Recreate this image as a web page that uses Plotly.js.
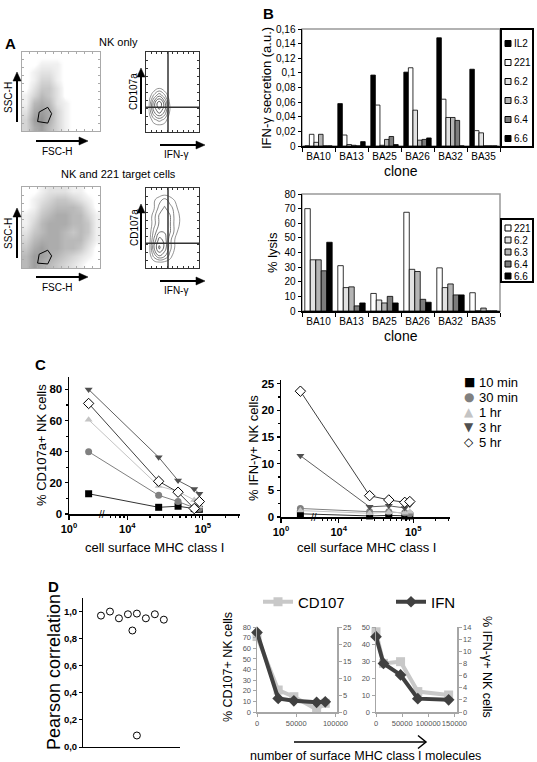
<!DOCTYPE html>
<html><head><meta charset="utf-8">
<script src="https://cdn.plot.ly/plotly-3.0.1.min.js"></script>
<style>html,body{margin:0;padding:0;background:#fff;} #chart{width:537px;height:762px;}</style>
</head><body><div id="chart"></div>
<script>
// ================= DATA =================
// Panel A: estimated flow-cytometry densities (10x10 grids, rows bottom -> top, cols left -> right)
const densNKonlyScatter = [
  [3,6,7,5,3,1,0,0,0,0],
  [3,7,8,6,3,1,0,0,0,0],
  [2,6,7,6,3,1,0,0,0,0],
  [1,5,6,5,2,1,0,0,0,0],
  [1,3,5,4,2,0,0,0,0,0],
  [0,2,4,4,2,0,0,0,0,0],
  [0,1,3,3,1,0,0,0,0,0],
  [0,1,2,2,1,0,0,0,0,0],
  [0,0,1,1,1,0,0,0,0,0],
  [0,0,0,0,0,0,0,0,0,0]];
const densNKonlyCD107 = [
  [0,0,0,0,0,0,0,0,0,0],
  [0,2,3,2,0,0,0,0,0,0],
  [1,5,7,5,1,0,0,0,0,0],
  [1,6,9,6,1,0,0,0,0,0],
  [0,3,5,3,0,0,0,0,0,0],
  [0,0,1,0,0,0,0,0,0,0],
  [0,0,0,0,0,0,0,0,0,0],
  [0,0,0,0,0,0,0,0,0,0],
  [0,0,0,0,0,0,0,0,0,0],
  [0,0,0,0,0,0,0,0,0,0]];
const densNK221Scatter = [
  [5,7,6,5,4,3,2,1,0,0],
  [5,7,7,6,5,4,3,2,1,0],
  [4,6,7,6,6,5,5,4,2,0],
  [3,5,6,6,6,5,5,5,3,1],
  [2,4,5,6,6,5,4,5,4,1],
  [1,3,5,6,6,6,5,5,4,1],
  [1,2,4,5,6,6,5,5,3,1],
  [0,1,3,4,5,5,5,4,2,0],
  [0,1,2,3,4,4,3,2,1,0],
  [0,0,1,2,2,2,1,1,0,0]];
const densNK221CD107 = [
  [0,0,0,0,0,0,0,0,0,0],
  [0,3,5,4,2,0,0,0,0,0],
  [0,5,8,6,3,1,0,0,0,0],
  [0,4,7,6,3,1,0,0,0,0],
  [0,3,5,5,4,2,0,0,0,0],
  [0,2,4,5,4,2,1,0,0,0],
  [0,2,4,5,4,2,1,0,0,0],
  [0,1,3,4,3,2,0,0,0,0],
  [0,1,2,3,2,1,0,0,0,0],
  [0,0,0,0,0,0,0,0,0,0]];
const gateFSC = [0.20, 0.22, 0.33, 0.38, 0.33, 0.20];
const gateSSC_NK = [0.12, 0.24, 0.30, 0.22, 0.10, 0.12];
const gateSSC_NK221 = [0.06, 0.17, 0.22, 0.15, 0.05, 0.06];
const quadIFN = 0.415;
const quadCD107 = 0.31;

// Panel B
const clones = ['BA10','BA13','BA25','BA26','BA32','BA35'];
const ifnNames = ['IL2','221','6.2','6.3','6.4','6.6'];
const ifnIL2 = [0, 0.058, 0.097, 0.101, 0.148, 0.105];
const ifn221 = [0.016, 0.015, 0.056, 0.107, 0.064, 0.021];
const ifn62  = [0.005, 0.002, 0.001, 0.049, 0.039, 0.018];
const ifn63  = [0.016, 0.001, 0.009, 0.008, 0.039, 0];
const ifn64  = [0, 0, 0.013, 0.009, 0.035, 0];
const ifn66  = [0, 0.006, 0.002, 0.011, 0, 0];
const lysNames = ['221','6.2','6.3','6.4','6.6'];
const lys221 = [70, 31, 12, 67.5, 29.5, 12.5];
const lys62  = [35, 16, 7.5, 28.5, 16, 0];
const lys63  = [35, 16.5, 5.5, 27, 18.5, 2];
const lys64  = [27.5, 3.5, 10, 8, 11, 0];
const lys66  = [47, 5.5, 5.5, 6, 11, 0];

// Panel C  (first value = MHC-negative 221 cells, drawn left of the axis break)
const mhcC = [20, 26000, 47000, 77000, 90000];
const timeNames = ['10 min','30 min','1 hr','3 hr','5 hr'];
const cd107_10min = [13, 4.3, 5, 3.5, 3];
const cd107_30min = [40, 12, 8, 4, 3.5];
const cd107_1hr   = [60.5, 18, 14.5, 9, 5];
const cd107_3hr   = [80, 36.5, 21.5, 16, 13];
const cd107_5hr   = [71, 21, 14, 3.5, 8];
const ifnC_10min = [0.6, 0.2, 0.3, 0.2, 0.2];
const ifnC_30min = [1.6, 1.0, 1.0, 0.8, 0.6];
const ifnC_1hr   = [1.2, 0.7, 0.9, 0.8, 1.0];
const ifnC_3hr   = [11.5, 1.9, 2.1, 1.7, 2.3];
const ifnC_5hr   = [23.6, 4.0, 3.2, 2.75, 2.9];

// Panel D
const pearsonJitter = [1, 2, 3, 4, 4.5, 5, 5, 6, 7, 8];
const pearsonR = [0.97, 1.0, 0.95, 0.98, 0.86, 0.985, 0.085, 0.95, 0.98, 0.94];
const mhcD1 = [0, 27000, 47000, 76000, 87000];
const cd107D1 = [71, 20.7, 14.4, 2.5, 8.2];
const ifnD1 = [23.4, 4.0, 3.3, 2.85, 3.0];
const mhcD2 = [0, 14300, 47000, 80000, 139000];
const cd107D2 = [47.2, 28.6, 29.6, 12, 10];
const ifnD2 = [12.4, 8.0, 6.1, 2.2, 2.0];

// ================= LAYOUT HELPERS =================
const W = 537, H = 762;
const FONT = 'Liberation Sans, Arial, sans-serif';
const px = v => v / W;
const py = v => 1 - v / H;
const domX = (a, b) => [a / W, b / W];
const domY = (top, bottom) => [1 - bottom / H, 1 - top / H];

// broken log scale for panel C
const U0 = 3.2267, S1 = 0.2, SEG2 = 5000;
const brk = v => v >= SEG2 ? Math.log10(v) : U0 + S1 * Math.log10(v);

const annotations = [];
const shapes = [];
function txt(x, y, text, size, opts) {
  annotations.push(Object.assign({xref:'paper', yref:'paper', x:px(x), y:py(y), text,
    showarrow:false, font:{family:FONT, size:size, color:'#000'}, xanchor:'center', yanchor:'middle'}, opts || {}));
}
const P = (x, y) => px(x) + ',' + py(y);
function arrowShape(x0, y0, x1, y1, width, headLen, headW, open) {
  const L = Math.hypot(x1 - x0, y1 - y0), ux = (x1 - x0) / L, uy = (y1 - y0) / L;
  const nx = -uy, ny = ux;
  const bx = x1 - ux * headLen, by = y1 - uy * headLen;
  const p1 = [bx + nx * headW / 2, by + ny * headW / 2], p2 = [bx - nx * headW / 2, by - ny * headW / 2];
  const shaftEnd = open ? [x1, y1] : [bx + ux * 1, by + uy * 1];
  shapes.push({type:'path', xref:'paper', yref:'paper', path:'M' + P(x0, y0) + 'L' + P(shaftEnd[0], shaftEnd[1]),
    line:{color:'#000', width:width}});
  if (open) {
    shapes.push({type:'path', xref:'paper', yref:'paper', path:'M' + P(p1[0], p1[1]) + 'L' + P(x1, y1) + 'L' + P(p2[0], p2[1]),
      line:{color:'#000', width:width}});
  } else {
    shapes.push({type:'path', xref:'paper', yref:'paper', path:'M' + P(x1, y1) + 'L' + P(p1[0], p1[1]) + 'L' + P(p2[0], p2[1]) + 'Z',
      line:{color:'#000', width:0.5}, fillcolor:'#000'});
  }
}

const traces = [];
const layout = {
  width: W, height: H, margin:{l:0, r:0, t:0, b:0}, paper_bgcolor:'#fff', plot_bgcolor:'rgba(0,0,0,0)',
  showlegend: true, hovermode:false, separators:',.', font:{family:FONT, color:'#000'},
  bargap: 0.17, bargroupgap: 0
};

// ---------- Panel A ----------
function flowAxes(xn, yn, xd, yd, color) {
  const base = {range:[0,1], showticklabels:false, showgrid:false, zeroline:false, showline:true,
    linecolor:color, linewidth:1, mirror:'ticks', ticks:'inside', ticklen:2, tickcolor:color, dtick:0.1, fixedrange:true};
  layout['xaxis' + xn] = Object.assign({}, base, {domain:xd, anchor:'y' + yn});
  layout['yaxis' + yn] = Object.assign({}, base, {domain:yd, anchor:'x' + xn});
}
flowAxes('', '', domX(22,100), domY(52,131), '#aaa');
flowAxes(2, 2, domX(146,199), domY(52,132), '#333');
flowAxes(3, 3, domX(22,100), domY(187,268), '#aaa');
flowAxes(4, 4, domX(146,199), domY(188,268), '#333');

const heatBase = {type:'heatmap', x0:0.05, dx:0.1, y0:0.05, dy:0.1, zsmooth:'best', zmin:0, zmax:12,
  colorscale:[[0,'rgba(255,255,255,0)'],[0.06,'#f4f4f4'],[0.45,'#b4b4b4'],[1,'#585858']], showscale:false, showlegend:false, hoverinfo:'skip'};
traces.push(Object.assign({}, heatBase, {z:densNKonlyScatter, xaxis:'x', yaxis:'y'}));
traces.push(Object.assign({}, heatBase, {z:densNK221Scatter, xaxis:'x3', yaxis:'y3'}));
const contBase = {type:'contour', x0:0.05, dx:0.1, y0:0.05, dy:0.1, showscale:false, showlegend:false,
  contours:{coloring:'lines', start:1.2, end:9, size:1.3}, line:{width:0.8, smoothing:1.3},
  colorscale:[[0,'#777'],[1,'#222']], hoverinfo:'skip'};
traces.push(Object.assign({}, contBase, {z:densNKonlyCD107, xaxis:'x2', yaxis:'y2'}));
traces.push(Object.assign({}, contBase, {z:densNK221CD107, xaxis:'x4', yaxis:'y4'}));
traces.push({type:'scatter', mode:'lines', x:gateFSC, y:gateSSC_NK, xaxis:'x', yaxis:'y', line:{color:'#000', width:1}, showlegend:false});
traces.push({type:'scatter', mode:'lines', x:gateFSC, y:gateSSC_NK221, xaxis:'x3', yaxis:'y3', line:{color:'#000', width:1}, showlegend:false});
[['x2','y2'],['x4','y4']].forEach(([xa, ya]) => {
  shapes.push({type:'line', xref:xa, yref:ya, x0:quadIFN, x1:quadIFN, y0:0, y1:1, line:{color:'#333', width:1.5}});
  shapes.push({type:'line', xref:xa, yref:ya, x0:0, x1:1, y0:quadCD107, y1:quadCD107, line:{color:'#333', width:1.5}});
});
txt(10, 44, '<b>A</b>', 15);
txt(118, 42, 'NK only', 11);
txt(118, 174, 'NK and 221 target cells', 11);
[0, 136].forEach(o => {
  txt(8, 98 + o, 'SSC-H', 10, {textangle:-90});
  arrowShape(17, 122 + o, 17, 72 + o, 2, 9, 8, false);
  txt(57, 151 + o, 'FSC-H', 10);
  arrowShape(36, 141 + o, 88, 141 + o, 2, 9, 8, false);
  txt(134, 92 + o, 'CD107a', 10, {textangle:-90});
  arrowShape(141, 114 + o, 141, 68 + o, 2, 9, 8, false);
  txt(176, 154 + o, 'IFN-γ', 10);
  arrowShape(160, 145 + o, 205, 145 + o, 2, 9, 8, false);
});

// ---------- Panel B ----------
const greys = {IL2:'#000000', '221':'#ffffff', '6.2':'#e2e2e2', '6.3':'#b4b4b4', '6.4':'#7c7c7c', '6.6':'#000000'};
function barAxes(xn, yn, xd, yd, yr, dt) {
  layout['xaxis' + xn] = {domain:xd, anchor:'y' + yn, type:'category', ticks:'outside', tickson:'boundaries',
    ticklen:4, tickcolor:'#000', showline:true, linecolor:'#000', linewidth:1.5, showgrid:false, tickangle:0,
    tickfont:{family:FONT, size:10}, fixedrange:true};
  layout['yaxis' + yn] = {domain:yd, anchor:'x' + xn, range:yr, dtick:dt, ticks:'outside', ticklen:3,
    tickcolor:'#000', showline:true, linecolor:'#000', linewidth:1.5, showgrid:false, zeroline:false,
    tickfont:{family:FONT, size:10}, fixedrange:true};
  shapes.push({type:'rect', xref:'x' + xn + ' domain', yref:'y' + yn + ' domain', x0:0, x1:1, y0:0, y1:1,
    line:{color:'#999', width:1.5}, layer:'below'});
}
barAxes(5, 5, domX(302,500), domY(29,146), [0, 0.16], 0.02);
barAxes(6, 6, domX(302,500), domY(194,311), [0, 80], 10);
[ifnIL2, ifn221, ifn62, ifn63, ifn64, ifn66].forEach((vals, i) => {
  traces.push({type:'bar', x:clones, y:vals, name:ifnNames[i], xaxis:'x5', yaxis:'y5', showlegend:false,
    marker:{color:greys[ifnNames[i]], line:{color:'#000', width:0.8}}});
});
[lys221, lys62, lys63, lys64, lys66].forEach((vals, i) => {
  traces.push({type:'bar', x:clones, y:vals, name:lysNames[i], xaxis:'x6', yaxis:'y6', showlegend:false,
    marker:{color:greys[lysNames[i]], line:{color:'#000', width:0.8}}});
});
function boxLegend(x0, x1, y0, y1, names, rowStart, rowStep) {
  shapes.push({type:'rect', xref:'paper', yref:'paper', x0:px(x0), x1:px(x1), y0:py(y1), y1:py(y0),
    line:{color:'#000', width:2}, fillcolor:'#fff'});
  names.forEach((n, i) => {
    const yc = rowStart + i * rowStep;
    shapes.push({type:'rect', xref:'paper', yref:'paper', x0:px(x0 + 4), x1:px(x0 + 10), y0:py(yc + 3), y1:py(yc - 3),
      line:{color:'#000', width:1}, fillcolor:greys[n]});
    txt(x0 + 11, yc, n, 10, {xanchor:'left'});
  });
}
boxLegend(501, 533, 29, 147, ifnNames, 43.5, 19);
boxLegend(501, 533, 219, 282, lysNames, 228, 12);
txt(268, 13, '<b>B</b>', 15);
txt(267, 88, 'IFN-γ secretion (a.u.)', 13, {textangle:-90});
txt(272, 253, '% lysis', 13, {textangle:-90});
txt(401, 171, 'clone', 14);
txt(401, 336, 'clone', 14);

// ---------- Panel C ----------
const majorC = [1, 1e4, 1e5];
const minorC = [6000, 7000, 8000, 9000, 2e4, 3e4, 4e4, 5e4, 6e4, 7e4, 8e4, 9e4, 2e5, 3e5];
function cAxes(xn, yn, xd, yd, yr, yticks, yminor) {
  layout['xaxis' + xn] = {domain:xd, anchor:'y' + yn, range:[U0, 5.493], tickmode:'array',
    tickvals:majorC.map(brk), ticktext:['10<sup>0</sup>','10<sup>4</sup>','10<sup>5</sup>'],
    ticks:'outside', ticklen:4, tickwidth:1.2, tickcolor:'#000', showline:true, linecolor:'#000', linewidth:1.5,
    showgrid:false, zeroline:false, tickfont:{family:FONT, size:11, weight:'bold'}, tickangle:0,
    minor:{tickmode:'array', tickvals:minorC.map(brk), ticks:'outside', ticklen:2.5, tickcolor:'#000', showgrid:false},
    fixedrange:true};
  layout['yaxis' + yn] = {domain:yd, anchor:'x' + xn, range:yr, tickmode:'array', tickvals:yticks,
    ticks:'outside', ticklen:3, tickwidth:1.2, tickcolor:'#000', showline:true, linecolor:'#000', linewidth:1.5,
    showgrid:false, zeroline:false, tickfont:{family:FONT, size:11.5, weight:'bold'},
    minor:{tickmode:'array', tickvals:yminor, ticks:'outside', ticklen:2, tickcolor:'#000', showgrid:false},
    fixedrange:true};
  annotations.push({xref:'x' + xn, yref:'y' + yn, x:(brk(100) + brk(SEG2)) / 2, y:0, text:'//', showarrow:false,
    font:{family:FONT, size:10, color:'#000'}, xanchor:'center', yanchor:'middle'});
}
cAxes(7, 7, domX(69,240), domY(377,514), [0, 88], [0,20,40,60,80], [10,30,50,70]);
cAxes(8, 8, domX(281,450), domY(380,517), [0, 25.7], [0,5,10,15,20,25], [2.5,7.5,12.5,17.5,22.5]);
const cStyles = [
  {sym:'square', color:'#000', line:'#333', glyph:'■', gcolor:'#000'},
  {sym:'circle', color:'#808080', line:'#808080', glyph:'●', gcolor:'#808080'},
  {sym:'triangle-up', color:'#c4c4c4', line:'#c4c4c4', glyph:'▲', gcolor:'#c4c4c4'},
  {sym:'triangle-down', color:'#505050', line:'#606060', glyph:'▼', gcolor:'#505050'},
  {sym:'diamond', color:'#fff', line:'#404040', glyph:'◇', gcolor:'#000'}];
const cdSeries = [cd107_10min, cd107_30min, cd107_1hr, cd107_3hr, cd107_5hr];
const ifSeries = [ifnC_10min, ifnC_30min, ifnC_1hr, ifnC_3hr, ifnC_5hr];
[[cdSeries, 'x7', 'y7'], [ifSeries, 'x8', 'y8']].forEach(([series, xa, ya]) => {
  series.forEach((vals, i) => {
    const st = cStyles[i];
    traces.push({type:'scatter', mode:'lines+markers', x:mhcC.map(brk), y:vals, xaxis:xa, yaxis:ya,
      name:timeNames[i], showlegend:false, cliponaxis:false,
      line:{color:st.line, width:1},
      marker:{symbol:st.sym, size:st.sym === 'diamond' ? 8 : 7, color:st.color,
        line:{color:st.sym === 'diamond' ? '#000' : st.color, width:st.sym === 'diamond' ? 1 : 0}}});
  });
});
timeNames.forEach((n, i) => {
  const yc = 382 + i * 15;
  txt(469, yc, cStyles[i].glyph, 12, {font:{family:'DejaVu Sans', size:12, color:cStyles[i].gcolor}});
  txt(477, yc, n, 13, {xanchor:'left'});
});
txt(40, 364, '<b>C</b>', 15);
txt(41, 445, '% CD107a+ NK cells', 13, {textangle:-90});
txt(253, 448, '% IFN-γ+ NK cells', 13, {textangle:-90});
txt(155, 547, 'cell surface MHC class I', 13);
txt(366, 547, 'cell surface MHC class I', 13);

// ---------- Panel D ----------
layout.xaxis9 = {domain:domX(83,180), anchor:'y9', range:[-1, 9.8], showticklabels:false, ticks:'',
  showline:true, linecolor:'#000', linewidth:1, showgrid:false, zeroline:false, fixedrange:true};
layout.yaxis9 = {domain:domY(598,747), anchor:'x9', range:[0, 1.1], tickmode:'array',
  tickvals:[0,0.2,0.4,0.6,0.8,1.0], tickformat:'.1f', ticks:'outside', ticklen:3, tickcolor:'#000',
  showline:true, linecolor:'#000', linewidth:1, showgrid:false, zeroline:false,
  tickfont:{family:FONT, size:9.5, weight:'bold'}, fixedrange:true};
traces.push({type:'scatter', mode:'markers', x:pearsonJitter, y:pearsonR, xaxis:'x9', yaxis:'y9', showlegend:false,
  marker:{symbol:'circle-open', size:7, color:'#000', line:{width:1}}});
txt(53, 586, '<b>D</b>', 15);
txt(54, 672, 'Pearson correlation', 18, {textangle:-90});

const dGrey = '#a6a6a6', dTick = {family:FONT, size:7.5, color:'#555'};
function dAxes(xn, yn, yrn, xd, xr, xticks, yr, ydt, yrr, yrdt) {
  const ax = {showline:true, linecolor:dGrey, linewidth:1.5, ticks:'outside', ticklen:3, tickcolor:dGrey,
    showgrid:false, zeroline:false, tickfont:dTick, fixedrange:true};
  layout['xaxis' + xn] = Object.assign({}, ax, {domain:xd, anchor:'y' + yn, range:xr, tickmode:'array',
    tickvals:xticks, tickformat:'d', tickangle:0});
  layout['yaxis' + yn] = Object.assign({}, ax, {domain:domY(627,712), anchor:'x' + xn, range:yr, dtick:ydt});
  layout['yaxis' + yrn] = Object.assign({}, ax, {overlaying:'y' + yn, side:'right', anchor:'x' + xn, range:yrr, dtick:yrdt});
}
dAxes(10, 10, 14, domX(257,337), [0, 102000], [0, 50000, 100000], [0, 80], 10, [0, 25], 5);
dAxes(11, 11, 15, domX(376,457), [0, 155000], [0, 50000, 100000, 150000], [0, 50], 10, [0, 14], 2);
const cdStyle = {color:'#c8c8c8', sym:'square'}, ifStyle = {color:'#404040', sym:'diamond'};
[[mhcD1, cd107D1, ifnD1, 'x10', 'y10', 'y14', true], [mhcD2, cd107D2, ifnD2, 'x11', 'y11', 'y15', false]]
 .forEach(([xs, cd, inf, xa, yl, yr, leg]) => {
  traces.push({type:'scatter', mode:'lines+markers', x:xs, y:cd, xaxis:xa, yaxis:yl, name:'CD107', showlegend:leg,
    line:{color:cdStyle.color, width:4}, marker:{symbol:cdStyle.sym, size:9, color:cdStyle.color}, cliponaxis:false});
  traces.push({type:'scatter', mode:'lines+markers', x:xs, y:inf, xaxis:xa, yaxis:yr, name:'IFN', showlegend:leg,
    line:{color:ifStyle.color, width:4}, marker:{symbol:ifStyle.sym, size:9, color:ifStyle.color}, cliponaxis:false});
});
layout.legend = {orientation:'h', x:px(258), xanchor:'left', y:py(602), yanchor:'middle',
  font:{family:FONT, size:15, color:'#000'}, bgcolor:'rgba(0,0,0,0)', itemwidth:30,
  entrywidth:88, entrywidthmode:'pixels'};
txt(228, 667, '% CD107+ NK cells', 12.5, {textangle:-90});
txt(487, 667, '% IFN-γ+ NK cells', 12.5, {textangle:90});
arrowShape(294, 742, 426, 742, 1.5, 8, 13, true);
txt(365, 756, 'number of surface MHC class I molecules', 12.5);

layout.annotations = annotations;
layout.shapes = shapes;
Plotly.newPlot('chart', traces, layout, {displayModeBar:false, staticPlot:true});
</script>
</body></html>
